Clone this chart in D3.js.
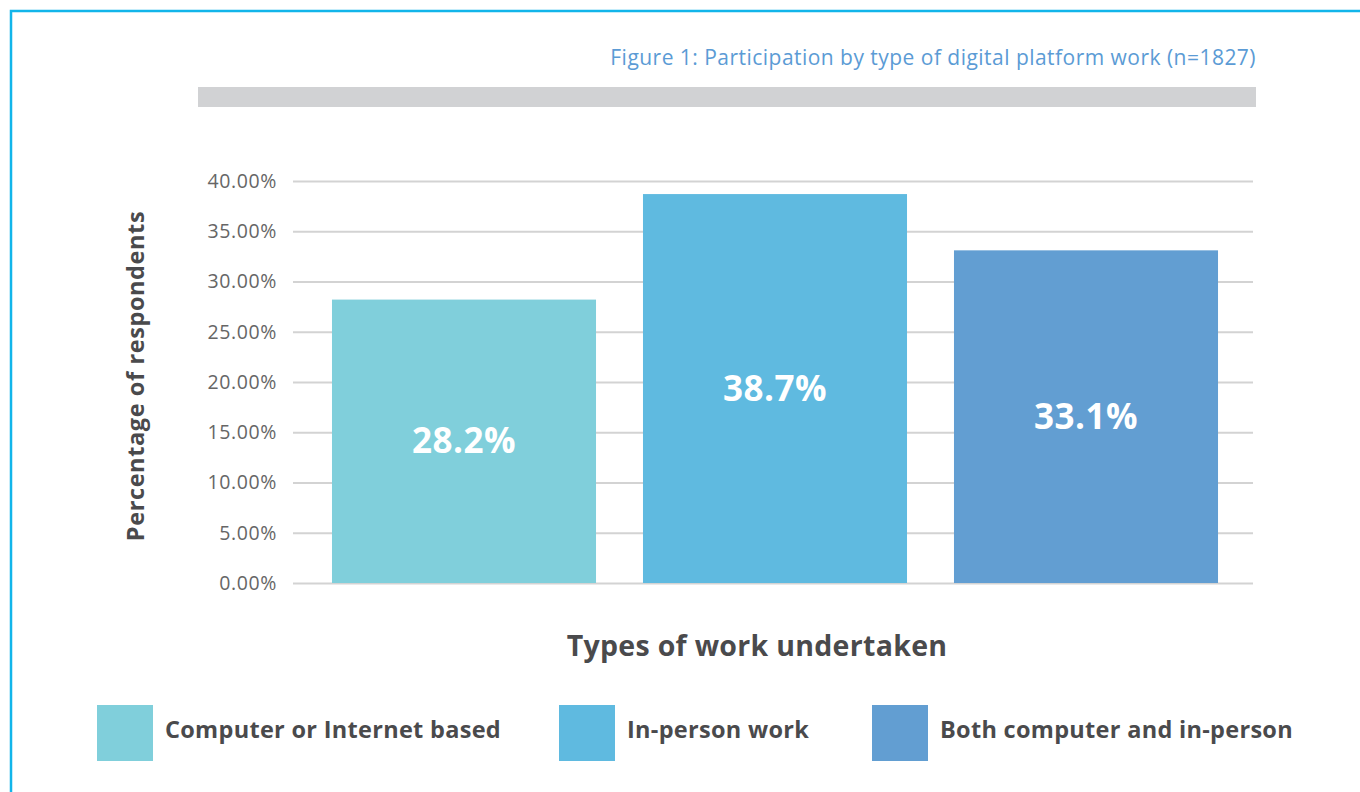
<!DOCTYPE html>
<html>
<head>
<meta charset="utf-8">
<script src="https://cdn.jsdelivr.net/npm/d3@7/dist/d3.min.js"></script>
<style>
  html, body { margin: 0; padding: 0; background: #fff; }
  svg { display: block; font-family: "Open Sans", "Lato", sans-serif; }
</style>
</head>
<body>
<svg id="chart" width="1360" height="792"></svg>
<script>
// Participation by type of digital platform work
const categories = ["Computer or Internet based", "In-person work", "Both computer and in-person"];
const shares = [28.2, 38.7, 33.1];
const barColors = ["#80CFDB", "#5FBAE0", "#629ED2"];
const yTicks = [0, 5, 10, 15, 20, 25, 30, 35, 40];
const title = "Figure 1: Participation by type of digital platform work (n=1827)";
const xAxisTitle = "Types of work undertaken";
const yAxisTitle = "Percentage of respondents";

const svg = d3.select("#chart");

// frame
svg.append("rect")
  .attr("x", 11).attr("y", 11)
  .attr("width", 1400).attr("height", 900)
  .attr("fill", "none")
  .attr("stroke", "#12B5EA")
  .attr("stroke-width", 2.5);

// title and grey rule
svg.append("text")
  .attr("x", 1256).attr("y", 65)
  .attr("text-anchor", "end")
  .attr("fill", "#5B9BD5")
  .attr("font-size", 21)
  .attr("letter-spacing", 0.47)
  .text(title);

svg.append("rect")
  .attr("x", 198).attr("y", 87)
  .attr("width", 1058).attr("height", 20)
  .attr("fill", "#D1D2D4");

const y = d3.scaleLinear().domain([0, 40]).range([583, 181]);
const x = d3.scaleBand().domain(categories).range([308.5, 1241.5]).paddingInner(0.151).paddingOuter(0.0755);

// gridlines + tick labels via axis
const yAxis = d3.axisLeft(y)
  .tickValues(yTicks)
  .tickSize(-960)
  .tickPadding(16)
  .tickFormat(d => d.toFixed(2) + "%");

const gAxis = svg.append("g")
  .attr("transform", "translate(293,0)")
  .call(yAxis);
gAxis.select(".domain").remove();
gAxis.selectAll(".tick line").attr("stroke", "#D3D3D3").attr("stroke-width", 2);
gAxis.selectAll(".tick text")
  .attr("fill", "#666")
  .attr("font-size", 19.5)
  .attr("letter-spacing", 0.6)
  .attr("font-family", "\"Open Sans\", sans-serif");

// bars
svg.append("g").selectAll("rect")
  .data(shares)
  .join("rect")
  .attr("x", (d, i) => x(categories[i]))
  .attr("y", d => y(d))
  .attr("width", x.bandwidth())
  .attr("height", d => y(0) - y(d))
  .attr("fill", (d, i) => barColors[i]);

// value labels
svg.append("g").selectAll("text")
  .data(shares)
  .join("text")
  .attr("x", (d, i) => x(categories[i]) + x.bandwidth() / 2)
  .attr("y", d => (y(d) + y(0)) / 2 + 12)
  .attr("text-anchor", "middle")
  .attr("fill", "#fff")
  .attr("font-weight", 700)
  .attr("font-size", 35)
  .attr("letter-spacing", 0.5)
  .text(d => d.toFixed(1) + "%");

// axis titles
svg.append("text")
  .attr("x", 757).attr("y", 656)
  .attr("text-anchor", "middle")
  .attr("fill", "#4A4A4C")
  .attr("font-weight", 700)
  .attr("font-size", 28.5)
  .attr("letter-spacing", 0.3)
  .text(xAxisTitle);

svg.append("text")
  .attr("transform", "translate(144,376) rotate(-90)")
  .attr("text-anchor", "middle")
  .attr("fill", "#4A4A4C")
  .attr("font-weight", 700)
  .attr("font-size", 23.5)
  .attr("letter-spacing", 0.6)
  .text(yAxisTitle);

// legend
const legendX = [97, 559, 872];
const legend = svg.append("g").selectAll("g")
  .data(categories)
  .join("g")
  .attr("transform", (d, i) => `translate(${legendX[i]},705)`);
legend.append("rect")
  .attr("width", 56).attr("height", 56)
  .attr("fill", (d, i) => barColors[i]);
legend.append("text")
  .attr("x", 68).attr("y", 33)
  .attr("fill", "#4A4A4C")
  .attr("font-weight", 700)
  .attr("font-size", 23.5)
  .attr("letter-spacing", 0.3)
  .text(d => d);
</script>
</body>
</html>
